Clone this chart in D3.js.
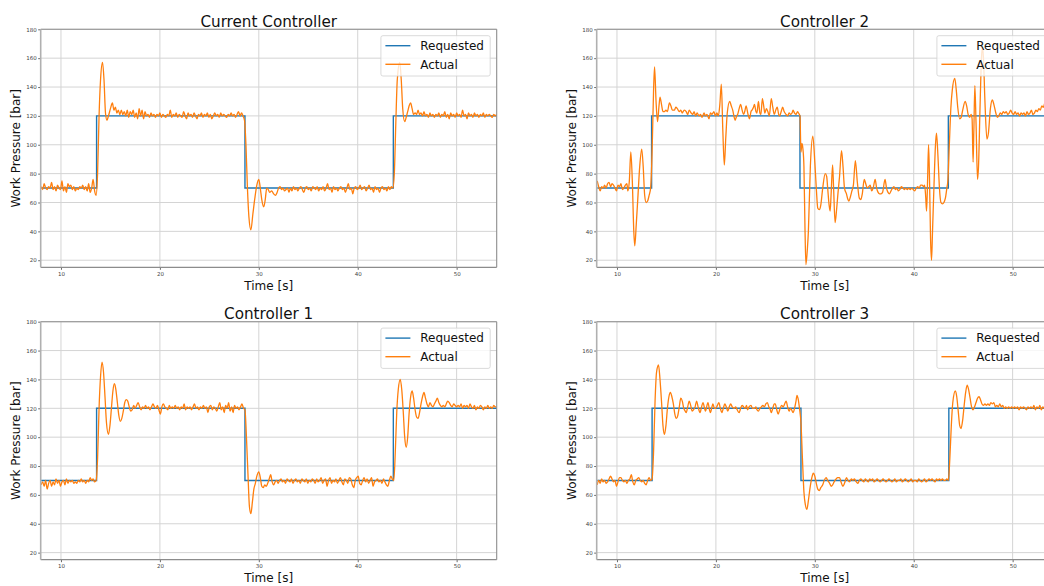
<!DOCTYPE html>
<html>
<head>
<meta charset="utf-8">
<script src="https://cdn.jsdelivr.net/npm/d3@7"></script>
<style>
  html, body { margin: 0; padding: 0; background: #fff; overflow: hidden; }
  svg { display: block; font-family: "DejaVu Sans", sans-serif; }
</style>
</head>
<body>
<svg id="chart" width="1044" height="586"></svg>
<script>
// ---- data -----------------------------------------------------------
const panelTitles = ["Current Controller", "Controller 2", "Controller 1", "Controller 3"];
const seriesNames = ["Requested", "Actual"];
const xTicks = [10, 20, 30, 40, 50];
const yTicks = [20, 40, 60, 80, 100, 120, 140, 160, 180];

// requested pressure set-point: [time s, bar], held until the next entry
const requestedCurrent = [[8, 70], [13.6, 120], [28.6, 70], [43.6, 120], [54.1, 120]];
const requested2 = [[8, 70], [13.5, 120], [28.5, 70], [43.5, 120], [54.1, 120]];
const requested1 = [[8, 70], [13.6, 120], [28.6, 70], [43.6, 120], [54.1, 120]];
const requested3 = [[8, 70], [13.55, 120], [28.6, 70], [43.55, 120], [54.1, 120]];

// measured work pressure: [time s, bar]
const actualCurrent = [
  [8.0,71],[8.15,69],[8.3,73],[8.45,70],[8.6,69],[8.75,71],[8.9,70],[9.05,74],[9.2,69],[9.35,71],[9.5,68],[9.65,72],[9.8,70],[9.95,69],
  [10.1,75],[10.25,68],[10.4,71],[10.55,67],[10.7,73],[10.85,71],[11.0,72],[11.15,69],[11.3,71],[11.45,68],[11.6,70],[11.75,69],[11.9,71],
  [12.05,70],[12.2,72],[12.35,69],[12.5,71],[12.65,68],[12.8,73],[12.95,67],[13.1,70],[13.25,76],[13.4,68],[13.55,65],[13.7,80],[13.85,120],
  [14.0,145],[14.2,157],[14.35,145],[14.5,122],[14.65,117],[14.8,120],[15.0,125],[15.2,129],[15.35,124],[15.5,126],[15.65,122],[15.8,124],
  [15.95,121],[16.1,124],[16.25,121],[16.4,123],[16.55,120],[16.7,124],[16.85,119],[17.0,123],[17.15,121],[17.3,124],[17.45,119],[17.6,122],
  [17.75,118],[17.9,125],[18.05,120],[18.2,124],[18.35,118],[18.5,123],[18.65,120],[18.8,121],[18.95,119],[19.1,122],[19.25,120],[19.4,121],
  [19.55,119],[19.7,121],[19.85,120],[20.0,122],[20.15,119],[20.3,121],[20.45,120],[20.6,119],[20.75,121],[20.9,120],[21.05,124],[21.2,119],
  [21.35,121],[21.5,120],[21.65,122],[21.8,119],[21.95,121],[22.1,120],[22.25,119],[22.4,123],[22.55,120],[22.7,118],[22.85,122],[23.0,120],
  [23.15,121],[23.3,119],[23.45,122],[23.6,120],[23.75,118],[23.9,121],[24.05,120],[24.2,122],[24.35,119],[24.5,121],[24.65,120],[24.8,122],
  [24.95,119],[25.1,121],[25.25,118],[25.4,120],[25.55,122],[25.7,120],[25.85,121],[26.0,119],[26.15,122],[26.3,120],[26.45,121],[26.6,120],
  [26.75,119],[26.9,121],[27.05,120],[27.2,122],[27.35,120],[27.5,121],[27.65,119],[27.8,121],[27.95,123],[28.1,120],[28.25,122],[28.4,120],
  [28.55,117],[28.7,100],[28.85,70],[29.0,50],[29.2,41],[29.4,52],[29.6,63],[29.8,72],[30.0,76],[30.15,70],[30.3,62],[30.5,57],[30.65,62],
  [30.8,70],[30.95,69],[31.1,67],[31.3,68],[31.5,66],[31.7,65],[31.85,67],[32.0,70],[32.15,71],[32.3,69],[32.45,70],[32.6,68],[32.75,69],
  [32.9,70],[33.05,67],[33.2,70],[33.35,68],[33.5,71],[33.65,69],[33.8,70],[33.95,68],[34.1,70],[34.25,71],[34.4,69],[34.55,67],[34.7,70],
  [34.85,71],[35.0,69],[35.15,70],[35.3,68],[35.45,71],[35.6,70],[35.75,69],[35.9,71],[36.05,68],[36.2,70],[36.35,69],[36.5,71],[36.65,68],
  [36.8,70],[36.95,73],[37.1,69],[37.25,70],[37.4,67],[37.55,71],[37.7,69],[37.85,70],[38.0,68],[38.15,70],[38.3,71],[38.45,69],[38.6,70],
  [38.75,67],[38.9,70],[39.05,73],[39.2,69],[39.35,70],[39.5,66],[39.65,70],[39.8,71],[39.95,69],[40.1,70],[40.25,72],[40.4,69],[40.55,70],
  [40.7,71],[40.85,68],[41.0,70],[41.15,72],[41.3,69],[41.45,70],[41.6,67],[41.75,71],[41.9,69],[42.05,70],[42.2,67],[42.35,70],[42.5,71],
  [42.65,69],[42.8,70],[42.95,68],[43.1,71],[43.25,69],[43.4,71],[43.55,70],[43.7,80],[43.85,115],[44.0,145],[44.25,157],[44.4,145],
  [44.55,125],[44.75,116],[44.9,119],[45.05,123],[45.2,127],[45.35,129],[45.5,125],[45.65,121],[45.8,122],[45.95,121],[46.1,124],[46.25,121],
  [46.4,122],[46.55,120],[46.7,123],[46.85,120],[47.0,121],[47.15,119],[47.3,122],[47.45,120],[47.6,121],[47.75,119],[47.9,121],[48.05,120],
  [48.2,122],[48.35,119],[48.5,121],[48.65,120],[48.8,123],[48.95,119],[49.1,121],[49.25,118],[49.4,122],[49.55,120],[49.7,121],[49.85,119],
  [50.0,122],[50.15,120],[50.3,121],[50.45,119],[50.6,124],[50.75,120],[50.9,121],[51.05,118],[51.2,122],[51.35,120],[51.5,121],[51.65,119],
  [51.8,122],[51.95,120],[52.1,121],[52.25,119],[52.4,121],[52.55,120],[52.7,122],[52.85,119],[53.0,121],[53.15,120],[53.3,121],[53.45,120],
  [53.6,119],[53.75,121],[53.9,120],[54.05,121]
];

const actual2 = [
  [8.0,75],[8.15,71],[8.3,68],[8.45,71],[8.6,70],[8.75,72],[8.9,70],[9.05,73],[9.2,74],[9.35,71],[9.5,73],[9.65,72],[9.8,70],[9.95,68],
  [10.1,72],[10.25,71],[10.4,73],[10.55,69],[10.7,70],[10.85,72],[11.0,73],[11.1,68],[11.25,75],[11.4,95],[11.55,75],[11.7,40],[11.8,30],
  [11.95,45],[12.1,62],[12.3,85],[12.5,97],[12.65,85],[12.8,65],[12.95,60],[13.1,61],[13.25,65],[13.4,70],[13.55,95],[13.7,138],[13.8,154],
  [13.95,130],[14.1,116],[14.25,127],[14.35,133],[14.5,128],[14.65,123],[14.8,123],[14.95,124],[15.1,123],[15.3,129],[15.45,127],[15.6,124],
  [15.8,124],[15.95,126],[16.1,125],[16.3,123],[16.45,124],[16.6,122],[16.8,124],[17.0,123],[17.15,121],[17.3,124],[17.5,122],[17.65,121],
  [17.8,123],[17.95,120],[18.1,122],[18.3,120],[18.45,121],[18.6,119],[18.8,122],[18.95,120],[19.1,121],[19.3,118],[19.45,122],[19.6,121],
  [19.8,123],[19.95,120],[20.1,122],[20.25,120],[20.4,128],[20.55,142],[20.7,110],[20.85,86],[21.0,105],[21.15,122],[21.4,130],[21.55,127],
  [21.7,124],[21.85,119],[21.95,117],[22.1,120],[22.2,121],[22.35,125],[22.5,128],[22.65,124],[22.8,121],[22.95,124],[23.05,127],[23.25,121],
  [23.4,118],[23.55,123],[23.65,124],[23.8,126],[23.9,128],[24.05,123],[24.15,122],[24.3,130],[24.45,122],[24.55,121],[24.7,132],[24.85,126],
  [24.95,122],[25.1,125],[25.25,123],[25.4,120],[25.6,132],[25.75,126],[25.9,121],[26.05,124],[26.2,126],[26.35,121],[26.45,120],[26.6,123],
  [26.75,126],[26.9,123],[27.1,121],[27.25,120],[27.4,122],[27.55,121],[27.7,122],[27.8,124],[27.95,122],[28.1,121],[28.25,123],[28.35,122],
  [28.5,120],[28.6,95],[28.7,101],[28.8,97],[28.9,85],[29.0,45],[29.1,17],[29.25,28],[29.35,40],[29.55,85],[29.8,106],[30.0,88],[30.15,70],
  [30.3,56],[30.45,55],[30.6,58],[30.8,70],[31.05,80],[31.2,78],[31.3,70],[31.45,58],[31.55,54],[31.65,66],[31.8,86],[31.9,70],[32.05,46],
  [32.2,55],[32.35,67],[32.5,78],[32.7,96],[32.85,85],[33.0,70],[33.2,66],[33.35,62],[33.45,61],[33.6,64],[33.75,68],[33.9,72],[34.1,89],
  [34.3,74],[34.5,63],[34.65,62],[34.8,66],[35.0,76],[35.15,73],[35.3,70],[35.45,71],[35.6,72],[35.75,68],[35.9,70],[36.1,76],[36.25,70],
  [36.4,67],[36.55,66],[36.7,66],[36.85,67],[37.1,76],[37.25,70],[37.4,67],[37.55,66],[37.7,68],[37.85,70],[38.0,71],[38.15,69],[38.3,70],
  [38.45,68],[38.6,69],[38.75,71],[38.9,70],[39.05,69],[39.2,70],[39.35,69],[39.5,70],[39.65,69],[39.8,70],[39.95,69],[40.1,68],[40.25,70],
  [40.4,71],[40.55,70],[40.7,72],[40.85,72],[41.0,71],[41.1,72],[41.2,65],[41.3,54],[41.4,75],[41.5,100],[41.6,75],[41.7,35],[41.8,20],
  [41.9,40],[42.05,72],[42.2,100],[42.3,108],[42.45,92],[42.6,70],[42.75,60],[42.9,59],[43.05,60],[43.2,63],[43.35,70],[43.45,75],[43.6,100],
  [43.75,125],[43.9,138],[44.15,146],[44.3,138],[44.45,126],[44.65,118],[44.8,119],[44.95,124],[45.2,130],[45.35,127],[45.5,121],[45.65,119],
  [45.8,121],[45.9,118],[46.0,88],[46.08,110],[46.18,141],[46.3,115],[46.45,76],[46.55,85],[46.7,125],[46.85,160],[46.95,168],[47.05,160],
  [47.2,130],[47.4,104],[47.55,108],[47.75,125],[47.95,131],[48.1,128],[48.3,122],[48.45,119],[48.6,120],[48.75,122],[48.9,121],[49.05,123],
  [49.2,122],[49.35,123],[49.5,121],[49.65,122],[49.8,124],[49.95,122],[50.1,121],[50.25,123],[50.4,121],[50.55,122],[50.7,120],[50.85,122],
  [51.0,121],[51.15,122],[51.3,120],[51.45,123],[51.6,121],[51.75,122],[51.9,124],[52.05,121],[52.2,122],[52.35,124],[52.5,123],[52.65,125],
  [52.8,124],[52.95,127],[53.1,126],[53.25,129],[53.4,131],[53.6,130]
];

const actual1 = [
  [8.0,67],[8.15,69],[8.3,66],[8.45,70],[8.6,64],[8.75,68],[8.9,70],[9.05,66],[9.2,69],[9.35,67],[9.5,71],[9.65,68],[9.8,70],[9.95,66],
  [10.1,69],[10.25,70],[10.4,67],[10.55,71],[10.7,68],[10.85,70],[11.0,69],[11.15,70],[11.3,68],[11.45,69],[11.6,68],[11.75,70],[11.9,69],
  [12.05,71],[12.2,69],[12.35,70],[12.5,68],[12.65,70],[12.8,69],[12.95,72],[13.1,70],[13.25,71],[13.4,69],[13.55,70],[13.7,85],[13.85,120],
  [14.0,142],[14.15,152],[14.3,145],[14.45,128],[14.6,110],[14.8,102],[14.95,108],[15.1,120],[15.25,132],[15.4,137],[15.55,133],[15.7,124],
  [15.85,115],[16.0,111],[16.15,113],[16.3,118],[16.45,124],[16.6,126],[16.75,125],[16.9,121],[17.05,118],[17.2,119],[17.35,122],[17.5,120],
  [17.65,122],[17.8,124],[17.95,121],[18.1,119],[18.25,121],[18.4,120],[18.55,122],[18.7,120],[18.85,121],[19.0,119],[19.15,121],[19.3,123],
  [19.45,121],[19.6,120],[19.75,122],[19.9,119],[20.05,116],[20.2,121],[20.35,123],[20.5,121],[20.65,120],[20.8,119],[20.95,122],[21.1,120],
  [21.25,121],[21.4,120],[21.55,122],[21.7,120],[21.85,121],[22.0,119],[22.15,121],[22.3,120],[22.45,123],[22.6,119],[22.75,121],[22.9,120],
  [23.05,121],[23.2,119],[23.35,121],[23.5,123],[23.65,120],[23.8,121],[23.95,119],[24.1,121],[24.25,120],[24.4,122],[24.55,120],[24.7,121],
  [24.85,117],[25.0,121],[25.15,122],[25.3,119],[25.45,121],[25.6,120],[25.75,118],[25.9,121],[26.05,124],[26.2,119],[26.35,121],[26.5,117],
  [26.65,122],[26.8,120],[26.95,124],[27.1,118],[27.25,121],[27.4,117],[27.55,122],[27.7,120],[27.85,121],[28.0,119],[28.15,121],[28.3,123],
  [28.45,120],[28.6,119],[28.75,100],[28.9,75],[29.05,52],[29.2,47],[29.35,55],[29.5,64],[29.65,68],[29.8,73],[30.0,76],[30.15,72],[30.3,66],
  [30.45,65],[30.6,67],[30.75,66],[30.9,68],[31.05,71],[31.2,74],[31.35,69],[31.5,67],[31.65,69],[31.8,70],[31.95,68],[32.1,70],[32.25,71],
  [32.4,69],[32.55,70],[32.7,68],[32.85,71],[33.0,70],[33.15,69],[33.3,71],[33.45,68],[33.6,70],[33.75,71],[33.9,69],[34.05,70],[34.2,68],
  [34.35,71],[34.5,70],[34.65,69],[34.8,71],[34.95,68],[35.1,70],[35.25,69],[35.4,71],[35.55,70],[35.7,68],[35.85,71],[36.0,69],[36.15,70],
  [36.3,72],[36.45,68],[36.6,70],[36.75,71],[36.9,66],[37.05,70],[37.2,72],[37.35,68],[37.5,70],[37.65,69],[37.8,71],[37.95,68],[38.1,70],
  [38.25,72],[38.4,69],[38.55,67],[38.7,71],[38.85,70],[39.0,68],[39.15,72],[39.3,71],[39.45,67],[39.6,65],[39.75,70],[39.9,72],[40.05,73],
  [40.2,68],[40.35,67],[40.5,70],[40.65,72],[40.8,69],[40.95,71],[41.1,68],[41.25,70],[41.4,72],[41.55,66],[41.7,69],[41.85,70],[42.0,71],
  [42.15,69],[42.3,70],[42.45,68],[42.6,71],[42.75,69],[42.9,67],[43.05,66],[43.2,70],[43.35,73],[43.5,71],[43.65,70],[43.8,90],[43.95,118],
  [44.1,133],[44.3,140],[44.45,133],[44.6,118],[44.75,100],[44.9,93],[45.05,100],[45.2,117],[45.35,128],[45.5,132],[45.65,127],[45.8,119],
  [45.95,114],[46.1,113],[46.25,117],[46.4,123],[46.55,128],[46.7,131],[46.85,127],[47.0,123],[47.15,121],[47.3,124],[47.45,122],[47.6,121],
  [47.75,123],[47.9,125],[48.05,127],[48.2,124],[48.35,122],[48.5,121],[48.65,122],[48.8,121],[48.95,123],[49.1,125],[49.25,124],[49.4,122],
  [49.55,121],[49.7,123],[49.85,122],[50.0,121],[50.15,122],[50.3,121],[50.45,123],[50.6,120],[50.75,122],[50.9,121],[51.05,122],[51.2,120],
  [51.35,123],[51.5,121],[51.65,120],[51.8,122],[51.95,119],[52.1,121],[52.25,120],[52.4,122],[52.55,121],[52.7,119],[52.85,121],[53.0,120],
  [53.15,122],[53.3,120],[53.45,121],[53.6,120],[53.75,122],[53.9,121],[54.05,121]
];

const actual3 = [
  [8.0,67],[8.15,70],[8.3,68],[8.45,71],[8.6,69],[8.75,70],[8.9,68],[9.05,69],[9.2,71],[9.35,73],[9.5,71],[9.65,69],[9.8,70],[9.95,66],
  [10.1,69],[10.25,72],[10.4,72],[10.55,70],[10.7,69],[10.85,70],[11.0,68],[11.15,70],[11.3,71],[11.45,74],[11.6,69],[11.75,67],[11.9,70],
  [12.05,71],[12.2,72],[12.35,70],[12.5,69],[12.65,70],[12.8,68],[12.95,67],[13.1,70],[13.25,72],[13.4,70],[13.55,71],[13.7,90],[13.85,125],
  [14.0,145],[14.2,150],[14.35,140],[14.5,125],[14.65,108],[14.8,102],[14.95,108],[15.1,120],[15.25,128],[15.4,131],[15.55,128],[15.7,123],
  [15.85,116],[16.0,113],[16.15,115],[16.3,121],[16.45,127],[16.6,125],[16.75,120],[16.9,118],[17.0,117],[17.15,121],[17.3,125],[17.45,122],
  [17.6,118],[17.75,119],[17.9,121],[18.05,125],[18.2,121],[18.4,117],[18.55,121],[18.7,124],[18.85,120],[18.95,118],[19.1,122],[19.2,124],
  [19.35,119],[19.45,117],[19.6,121],[19.7,123],[19.85,120],[20.0,120],[20.15,122],[20.3,124],[20.45,120],[20.6,117],[20.75,120],[20.9,123],
  [21.05,121],[21.2,118],[21.35,121],[21.5,123],[21.65,121],[21.85,120],[22.0,121],[22.15,119],[22.35,117],[22.5,120],[22.65,122],[22.8,121],
  [22.95,120],[23.1,122],[23.2,119],[23.35,121],[23.55,122],[23.7,120],[23.9,120],[24.05,121],[24.15,119],[24.3,118],[24.45,120],[24.6,121],
  [24.75,122],[24.9,121],[25.05,123],[25.2,124],[25.35,121],[25.5,119],[25.6,117],[25.75,120],[25.9,123],[26.0,123],[26.15,119],[26.3,116],
  [26.45,119],[26.65,122],[26.8,121],[26.95,123],[27.1,125],[27.25,121],[27.4,118],[27.55,120],[27.65,119],[27.8,117],[27.95,120],[28.1,125],
  [28.2,129],[28.3,127],[28.45,120],[28.6,110],[28.75,85],[28.9,62],[29.05,53],[29.2,50],[29.35,56],[29.5,64],[29.7,72],[29.85,75],[30.0,73],
  [30.15,68],[30.3,64],[30.45,63],[30.6,65],[30.8,67],[30.95,70],[31.15,72],[31.3,70],[31.5,68],[31.65,66],[31.8,67],[31.95,69],[32.15,71],
  [32.3,72],[32.5,72],[32.65,69],[32.84,66],[33.0,68],[33.2,72],[33.35,70],[33.5,69],[33.7,71],[33.85,70],[34.0,71],[34.2,69],[34.36,68],
  [34.5,70],[34.65,71],[34.8,70],[34.95,69],[35.1,71],[35.25,70],[35.4,69],[35.55,71],[35.7,70],[35.85,71],[36.0,69],[36.15,70],[36.3,71],
  [36.45,70],[36.6,69],[36.75,70],[36.9,71],[37.05,70],[37.2,69],[37.35,70],[37.5,71],[37.65,70],[37.8,69],[37.95,70],[38.1,71],[38.25,69],
  [38.4,70],[38.55,70],[38.7,71],[38.85,69],[39.0,70],[39.15,71],[39.3,70],[39.45,69],[39.6,70],[39.75,71],[39.9,69],[40.05,70],[40.2,70],
  [40.35,69],[40.5,71],[40.65,70],[40.8,69],[40.95,70],[41.1,71],[41.25,69],[41.4,70],[41.55,71],[41.7,70],[41.85,71],[42.0,70],[42.15,69],
  [42.3,71],[42.45,70],[42.6,71],[42.75,70],[42.9,71],[43.05,70],[43.2,70],[43.35,71],[43.5,70],[43.65,85],[43.8,108],[43.95,124],[44.2,132],
  [44.35,128],[44.5,118],[44.65,108],[44.78,106],[44.95,112],[45.1,122],[45.25,131],[45.4,136],[45.55,133],[45.7,127],[45.85,121],[46.0,119],
  [46.15,121],[46.3,124],[46.45,127],[46.6,128],[46.75,126],[46.9,123],[47.05,122],[47.2,123],[47.35,122],[47.5,123],[47.65,122],[47.8,124],
  [47.95,123],[48.1,124],[48.25,121],[48.4,122],[48.55,121],[48.7,123],[48.85,121],[49.0,122],[49.15,120],[49.3,121],[49.45,120],[49.6,121],
  [49.75,120],[49.9,121],[50.05,120],[50.2,121],[50.35,120],[50.5,121],[50.65,119],[50.8,121],[50.95,120],[51.1,121],[51.25,120],[51.4,119],
  [51.55,121],[51.7,120],[51.85,121],[52.0,120],[52.15,122],[52.3,119],[52.45,121],[52.6,120],[52.75,122],[52.9,119],[53.05,121],[53.2,120],
  [53.35,121],[53.5,119]
];

const requestedSeries = [requestedCurrent, requested2, requested1, requested3];
const actualSeries = [actualCurrent, actual2, actual1, actual3];

// ---- layout ---------------------------------------------------------
const colors = { requested: "#1f77b4", actual: "#ff7f0e" };
const plotW = 456, plotH = 238;
const origins = [[40.7, 29.3], [596.7, 29.3], [40.7, 321.7], [596.7, 321.7]];

const svg = d3.select("#chart");

const x = d3.scaleLinear().domain([7.95, 54.05]).range([0, plotW]);
const y = d3.scaleLinear().domain([15.1, 180]).range([plotH, 0]);

panelTitles.forEach((title, i) => {
  const [ox, oy] = origins[i];
  const g = svg.append("g").attr("transform", `translate(${ox},${oy})`);

  // clip for the data lines
  const clipId = "clip" + i;
  g.append("clipPath").attr("id", clipId)
    .append("rect").attr("width", plotW).attr("height", plotH);

  // grid
  g.append("g").selectAll("line").data(xTicks).join("line")
    .attr("x1", d => x(d)).attr("x2", d => x(d))
    .attr("y1", 0).attr("y2", plotH)
    .attr("stroke", "#d4d4d4").attr("stroke-width", 1);
  g.append("g").selectAll("line").data(yTicks).join("line")
    .attr("x1", 0).attr("x2", plotW)
    .attr("y1", d => y(d)).attr("y2", d => y(d))
    .attr("stroke", "#d4d4d4").attr("stroke-width", 1);

  // axes
  const xAxis = d3.axisBottom(x).tickValues(xTicks).tickSize(2.5).tickPadding(2);
  const yAxis = d3.axisLeft(y).tickValues(yTicks).tickSize(2.5).tickPadding(1.5);
  const gx = g.append("g").attr("transform", `translate(0,${plotH})`).attr("color", "#444").call(xAxis);
  const gy = g.append("g").attr("color", "#444").call(yAxis);
  [gx, gy].forEach(a => {
    a.select(".domain").remove();
    a.selectAll(".tick line").attr("stroke-width", 0.8);
    a.selectAll(".tick text")
      .style("font-family", "DejaVu Sans").style("font-size", "5.5px");
  });

  // data lines
  const lines = g.append("g").attr("clip-path", `url(#${clipId})`);
  lines.append("path")
    .datum(requestedSeries[i])
    .attr("d", d3.line().x(d => x(d[0])).y(d => y(d[1])).curve(d3.curveStepAfter))
    .attr("fill", "none").attr("stroke", colors.requested).attr("stroke-width", 1.4);
  lines.append("path")
    .datum(actualSeries[i])
    .attr("d", d3.line().x(d => x(d[0])).y(d => y(d[1])).curve(d3.curveMonotoneX))
    .attr("fill", "none").attr("stroke", colors.actual).attr("stroke-width", 1.3)
    .attr("stroke-linejoin", "round");

  // frame
  g.append("line").attr("x1", 0).attr("x2", plotW).attr("y1", 0).attr("y2", 0)
    .attr("stroke", "#8c8c8c").attr("stroke-width", 1.1);
  g.append("line").attr("x1", plotW).attr("x2", plotW).attr("y1", 0).attr("y2", plotH)
    .attr("stroke", "#8c8c8c").attr("stroke-width", 1.1);
  g.append("line").attr("x1", 0).attr("x2", plotW).attr("y1", plotH).attr("y2", plotH)
    .attr("stroke", "#8c8c8c").attr("stroke-width", 1.2);
  g.append("line").attr("x1", 0).attr("x2", 0).attr("y1", 0).attr("y2", plotH)
    .attr("stroke", "#b0b0b0").attr("stroke-width", 1.6);

  // title and axis labels
  g.append("text").attr("x", plotW / 2).attr("y", -2.8)
    .attr("text-anchor", "middle").attr("font-size", 15.2).attr("fill", "#111")
    .text(title);
  g.append("text").attr("x", plotW / 2).attr("y", plotH + 22.3)
    .attr("text-anchor", "middle").attr("font-size", 12).attr("fill", "#111")
    .text("Time [s]");
  g.append("text")
    .attr("transform", `translate(-20.7,${plotH / 2}) rotate(-90)`)
    .attr("text-anchor", "middle").attr("font-size", 12).attr("fill", "#111")
    .text("Work Pressure [bar]");

  // legend
  const lw = 109.3, lh = 40.3;
  const lg = g.append("g").attr("transform", `translate(${plotW - 6.5 - lw},6.4)`);
  lg.append("rect").attr("width", lw).attr("height", lh).attr("rx", 2)
    .attr("fill", "#fff").attr("fill-opacity", 0.8)
    .attr("stroke", "#d0d0d0").attr("stroke-width", 0.8);
  seriesNames.forEach((name, k) => {
    const ry = 10 + k * 18.6;
    lg.append("line").attr("x1", 4.5).attr("x2", 29.5).attr("y1", ry).attr("y2", ry)
      .attr("stroke", k === 0 ? colors.requested : colors.actual).attr("stroke-width", 1.4);
    lg.append("text").attr("x", 39.3).attr("y", ry).attr("dy", "0.36em")
      .attr("font-size", 12).attr("fill", "#111").text(name);
  });
});
</script>
</body>
</html>
